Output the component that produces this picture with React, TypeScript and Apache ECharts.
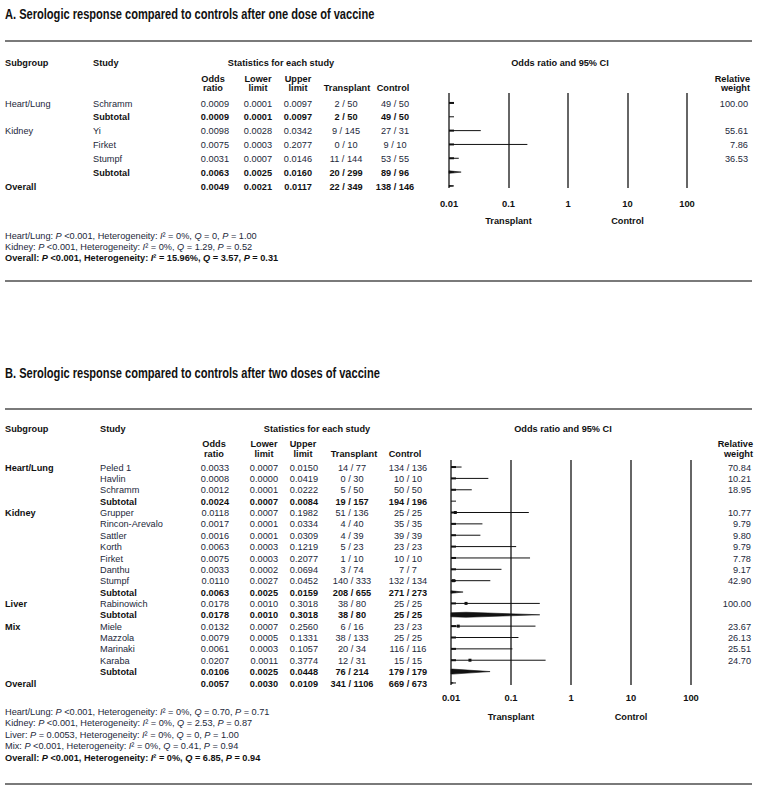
import React, { useEffect, useRef } from "react";
import * as echarts from "echarts";

// ---------------- DATA ----------------
const TICK_LABELS = ["0.01", "0.1", "1", "10", "100"];

const TITLE_A = "A. Serologic response compared to controls after one dose of vaccine";
const A_SUBGROUP = ["Heart/Lung", "", "Kidney", "", "", "", "Overall"];
const A_STUDY = ["Schramm", "Subtotal", "Yi", "Firket", "Stumpf", "Subtotal", ""];
const A_KIND = ["study", "subtotal", "study", "study", "study", "subtotal", "overall"];
const A_OR = [0.0009, 0.0009, 0.0098, 0.0075, 0.0031, 0.0063, 0.0049];
const A_LOWER = [0.0001, 0.0001, 0.0028, 0.0003, 0.0007, 0.0025, 0.0021];
const A_UPPER = [0.0097, 0.0097, 0.0342, 0.2077, 0.0146, 0.016, 0.0117];
const A_TX_EVENTS = [2, 2, 9, 0, 11, 20, 22];
const A_TX_TOTAL = [50, 50, 145, 10, 144, 299, 349];
const A_CTL_EVENTS = [49, 49, 27, 9, 53, 89, 138];
const A_CTL_TOTAL = [50, 50, 31, 10, 55, 96, 146];
const A_WEIGHT = [100.0, null, 55.61, 7.86, 36.53, null, null];
const A_FOOT_LABEL = ["Heart/Lung", "Kidney", "Overall"];
const A_FOOT_P = ["<0.001", "<0.001", "<0.001"];
const A_FOOT_I2 = ["0%", "0%", "15.96%"];
const A_FOOT_Q = ["0", "1.29", "3.57"];
const A_FOOT_PHET = ["1.00", "0.52", "0.31"];

const TITLE_B = "B. Serologic response compared to controls after two doses of vaccine";
const B_SUBGROUP = ["Heart/Lung", "", "", "", "Kidney", "", "", "", "", "", "", "", "Liver", "", "Mix", "", "", "", "", "Overall"];
const B_STUDY = ["Peled 1", "Havlin", "Schramm", "Subtotal", "Grupper", "Rincon-Arevalo", "Sattler", "Korth", "Firket", "Danthu", "Stumpf", "Subtotal", "Rabinowich", "Subtotal", "Miele", "Mazzola", "Marinaki", "Karaba", "Subtotal", ""];
const B_KIND = ["study", "study", "study", "subtotal", "study", "study", "study", "study", "study", "study", "study", "subtotal", "study", "subtotal", "study", "study", "study", "study", "subtotal", "overall"];
const B_OR = [0.0033, 0.0008, 0.0012, 0.0024, 0.0118, 0.0017, 0.0016, 0.0063, 0.0075, 0.0033, 0.011, 0.0063, 0.0178, 0.0178, 0.0132, 0.0079, 0.0061, 0.0207, 0.0106, 0.0057];
const B_LOWER = [0.0007, 0.0, 0.0001, 0.0007, 0.0007, 0.0001, 0.0001, 0.0003, 0.0003, 0.0002, 0.0027, 0.0025, 0.001, 0.001, 0.0007, 0.0005, 0.0003, 0.0011, 0.0025, 0.003];
const B_UPPER = [0.015, 0.0419, 0.0222, 0.0084, 0.1982, 0.0334, 0.0309, 0.1219, 0.2077, 0.0694, 0.0452, 0.0159, 0.3018, 0.3018, 0.256, 0.1331, 0.1057, 0.3774, 0.0448, 0.0109];
const B_TX_EVENTS = [14, 0, 5, 19, 51, 4, 4, 5, 1, 3, 140, 208, 38, 38, 6, 38, 20, 12, 76, 341];
const B_TX_TOTAL = [77, 30, 50, 157, 136, 40, 39, 23, 10, 74, 333, 655, 80, 80, 16, 133, 34, 31, 214, 1106];
const B_CTL_EVENTS = [134, 10, 50, 194, 25, 35, 39, 23, 10, 7, 132, 271, 25, 25, 23, 25, 116, 15, 179, 669];
const B_CTL_TOTAL = [136, 10, 50, 196, 25, 35, 39, 23, 10, 7, 134, 273, 25, 25, 23, 25, 116, 15, 179, 673];
const B_WEIGHT = [70.84, 10.21, 18.95, null, 10.77, 9.79, 9.8, 9.79, 7.78, 9.17, 42.9, null, 100.0, null, 23.67, 26.13, 25.51, 24.7, null, null];
const B_FOOT_LABEL = ["Heart/Lung", "Kidney", "Liver", "Mix", "Overall"];
const B_FOOT_P = ["<0.001", "<0.001", "= 0.0053", "<0.001", "<0.001"];
const B_FOOT_I2 = ["0%", "0%", "0%", "0%", "0%"];
const B_FOOT_Q = ["0.70", "2.53", "0", "0.41", "6.85"];
const B_FOOT_PHET = ["0.71", "0.87", "1.00", "0.94", "0.94"];

// ---------------- STYLE / LAYOUT ----------------
const FONT = '"Liberation Sans", Arial, sans-serif';
const C_REG = "#23283a";
const C_BOLD = "#111111";
const FS = 9.9;
const TEXT_SCALE_X = 0.93;
const AXIS_FS = 9.4;
const TITLE_FS = 14.5;
const TITLE_SCALE_X = 0.765;

const LAYOUT_A = {
  titleY: 14, ruleTopY: 41, headerY: 62, sub1Y: 78, sub2Y: 87,
  gridLeft: 449, gridTop: 93, gridWidth: 238, gridHeight: 95, yMin: -0.72, yMax: 6.15,
  labelMargin: 11, legendY: 220, footY0: 235, footStep: 11, ruleBottomY: 281,
  colSubgroup: 5, colStudy: 93, colOr: 229, colLo: 272, colHi: 312, colTx: 346, colCtl: 395, colWt: 748,
  hStats: 281, hOr: 213, hLo: 258, hHi: 298, hTx: 347, hCtl: 393, hPlot: 560, hWt: 750,
  boldSubgroup: false,
};
const LAYOUT_B = {
  titleY: 373, ruleTopY: 409, headerY: 428, sub1Y: 443, sub2Y: 453,
  gridLeft: 451, gridTop: 460, gridWidth: 240, gridHeight: 225, yMin: -0.62, yMax: 19.18,
  labelMargin: 7.5, legendY: 716, footY0: 711, footStep: 11.5, ruleBottomY: 784,
  colSubgroup: 5, colStudy: 100, colOr: 229, colLo: 278, colHi: 318, colTx: 352, colCtl: 408, colWt: 751,
  hStats: 317, hOr: 214, hLo: 264, hHi: 303, hTx: 354, hCtl: 405, hPlot: 563, hWt: 753,
  boldSubgroup: true,
};

const PANELS = [
  {
    title: TITLE_A, L: LAYOUT_A,
    subgroup: A_SUBGROUP, study: A_STUDY, kind: A_KIND, or: A_OR, lo: A_LOWER, hi: A_UPPER,
    txE: A_TX_EVENTS, txN: A_TX_TOTAL, ctE: A_CTL_EVENTS, ctN: A_CTL_TOTAL, wt: A_WEIGHT,
    fLabel: A_FOOT_LABEL, fP: A_FOOT_P, fI2: A_FOOT_I2, fQ: A_FOOT_Q, fPhet: A_FOOT_PHET,
  },
  {
    title: TITLE_B, L: LAYOUT_B,
    subgroup: B_SUBGROUP, study: B_STUDY, kind: B_KIND, or: B_OR, lo: B_LOWER, hi: B_UPPER,
    txE: B_TX_EVENTS, txN: B_TX_TOTAL, ctE: B_CTL_EVENTS, ctN: B_CTL_TOTAL, wt: B_WEIGHT,
    fLabel: B_FOOT_LABEL, fP: B_FOOT_P, fI2: B_FOOT_I2, fQ: B_FOOT_Q, fPhet: B_FOOT_PHET,
  },
];

function txt(x: number, y: number, text: string, align: string, bold: boolean, extra: any = {}) {
  return {
    type: "text",
    x, y,
    scaleX: TEXT_SCALE_X,
    silent: true,
    style: {
      text,
      fontFamily: FONT,
      fontSize: FS,
      fontWeight: bold ? "bold" : "normal",
      fill: bold ? C_BOLD : C_REG,
      align, textAlign: align,
      verticalAlign: "middle", textVerticalAlign: "middle",
      ...extra,
    },
  };
}

function clipLeft(pts: number[][], x0: number) {
  const out: number[][] = [];
  for (let k = 0; k < pts.length; k++) {
    const a = pts[k];
    const b = pts[(k + 1) % pts.length];
    const ain = a[0] >= x0;
    const bin = b[0] >= x0;
    if (ain) out.push(a);
    if (ain !== bin) {
      const t = (x0 - a[0]) / (b[0] - a[0]);
      out.push([x0, a[1] + t * (b[1] - a[1])]);
    }
  }
  return out;
}

function markRender(kinds: string[]) {
  return (params: any, api: any) => {
    const i = params.dataIndex;
    const row = api.value(0);
    const or = api.value(1);
    const lo = api.value(2);
    const hi = api.value(3);
    const px = (v: number) => api.coord([Math.max(v, 1e-6), row])[0];
    const y = api.coord([1, row])[1];
    const x0 = px(0.01);
    const xMax = px(100);
    const kind = kinds[i];
    const children: any[] = [];
    if (kind === "study") {
      if (hi > 0.01) {
        children.push({
          type: "line",
          shape: { x1: Math.max(px(lo), x0), y1: y, x2: Math.min(px(hi), xMax), y2: y },
          style: { stroke: "#111", lineWidth: 1 },
        });
      }
      if (lo < 0.01) {
        children.push({ type: "rect", shape: { x: x0, y: y - 1, width: 5, height: 2 }, style: { fill: "#111" } });
      }
      if (or >= 0.01) {
        children.push({ type: "rect", shape: { x: px(or) - 1.5, y: y - 1.5, width: 3, height: 3 }, style: { fill: "#111" } });
      }
    } else {
      if (lo < 0.01) {
        children.push({ type: "rect", shape: { x: x0, y: y - 0.5, width: 5, height: 1 }, style: { fill: "#111" } });
      }
      if (hi > 0.01) {
        const h = 2.5;
        const pts = [
          [px(lo), y],
          [px(or), y - h],
          [px(hi), y],
          [px(or), y + h],
        ];
        const clipped = clipLeft(pts, x0);
        if (clipped.length >= 3) {
          children.push({ type: "polygon", shape: { points: clipped }, style: { fill: "#111", stroke: "#111", lineWidth: 0.6 } });
        }
      }
    }
    return { type: "group", children };
  };
}

function tableRender(P: any) {
  const L = P.L;
  return (params: any, api: any) => {
    const i = params.dataIndex;
    const row = api.value(1);
    const y = api.coord([1, row])[1];
    const kind = P.kind[i];
    const b = kind !== "study";
    const children: any[] = [];
    if (P.subgroup[i]) {
      const sb = L.boldSubgroup || kind === "overall";
      children.push(txt(L.colSubgroup, y, P.subgroup[i], "left", sb));
    }
    if (P.study[i]) children.push(txt(L.colStudy, y, P.study[i], "left", b));
    children.push(txt(L.colOr, y, P.or[i].toFixed(4), "right", b));
    children.push(txt(L.colLo, y, P.lo[i].toFixed(4), "right", b));
    children.push(txt(L.colHi, y, P.hi[i].toFixed(4), "right", b));
    children.push(txt(L.colTx, y, `${P.txE[i]} / ${P.txN[i]}`, "center", b));
    children.push(txt(L.colCtl, y, `${P.ctE[i]} / ${P.ctN[i]}`, "center", b));
    if (P.wt[i] !== null && P.wt[i] !== undefined) {
      children.push(txt(L.colWt, y, P.wt[i].toFixed(2), "right", false));
    }
    return { type: "group", children };
  };
}

function footText(P: any, k: number) {
  const bold = P.fLabel[k] === "Overall";
  const n = bold ? "b" : "n";
  const it = bold ? "bi" : "i";
  return (
    `{${n}|${P.fLabel[k]}: }{${it}|P}{${n}| ${P.fP[k]}, Heterogeneity: }{${it}|I}{${n}|² = ${P.fI2[k]}, }` +
    `{${it}|Q}{${n}| = ${P.fQ[k]}, }{${it}|P}{${n}| = ${P.fPhet[k]}}`
  );
}

const RICH = {
  n: { fontFamily: FONT, fontSize: FS, fontWeight: "normal", fontStyle: "normal", fill: C_REG },
  i: { fontFamily: FONT, fontSize: FS, fontWeight: "normal", fontStyle: "italic", fill: C_REG },
  b: { fontFamily: FONT, fontSize: FS, fontWeight: "bold", fontStyle: "normal", fill: C_BOLD },
  bi: { fontFamily: FONT, fontSize: FS, fontWeight: "bold", fontStyle: "italic", fill: C_BOLD },
};

function buildOption() {
  const grids: any[] = [];
  const xAxes: any[] = [];
  const yAxes: any[] = [];
  const series: any[] = [];
  const graphics: any[] = [];

  PANELS.forEach((P, pi) => {
    const L = P.L;
    grids.push({ left: L.gridLeft, top: L.gridTop, width: L.gridWidth, height: L.gridHeight, containLabel: false });
    xAxes.push({
      type: "log", logBase: 10, gridIndex: pi, min: 0.01, max: 100, splitNumber: 4,
      axisLine: { show: false }, axisTick: { show: false }, minorTick: { show: false },
      splitLine: { show: true, lineStyle: { color: "#333", width: 1.5 } },
      axisLabel: {
        show: true, margin: L.labelMargin, fontFamily: FONT, fontSize: AXIS_FS, fontWeight: "bold", color: C_BOLD,
        formatter: (v: number) => TICK_LABELS[Math.round(Math.log10(v)) + 2] ?? "",
      },
    });
    yAxes.push({ type: "value", gridIndex: pi, min: L.yMin, max: L.yMax, inverse: true, show: false });

    series.push({
      type: "custom", xAxisIndex: pi, yAxisIndex: pi, silent: true, clip: false,
      encode: { x: 1, y: 0 },
      data: P.or.map((v: number, i: number) => [i, v, P.lo[i], P.hi[i]]),
      renderItem: markRender(P.kind),
      z: 5,
    });
    series.push({
      type: "custom", xAxisIndex: pi, yAxisIndex: pi, silent: true, clip: false,
      encode: { x: 0, y: 1 },
      data: P.study.map((_: string, i: number) => [1, i]),
      renderItem: tableRender(P),
      z: 6,
    });

    // Title and rules
    graphics.push({
      type: "text", x: 5, y: L.titleY, scaleX: TITLE_SCALE_X, silent: true,
      style: {
        text: P.title, fontFamily: FONT, fontSize: TITLE_FS, fontWeight: "bold", fill: C_BOLD,
        align: "left", textAlign: "left", verticalAlign: "middle", textVerticalAlign: "middle",
      },
    });
    graphics.push({ type: "line", silent: true, shape: { x1: 5, y1: L.ruleTopY, x2: 752, y2: L.ruleTopY }, style: { stroke: "#7a7a7a", lineWidth: 2 } });
    graphics.push({ type: "line", silent: true, shape: { x1: 5, y1: L.ruleBottomY, x2: 752, y2: L.ruleBottomY }, style: { stroke: "#7a7a7a", lineWidth: 2 } });

    // Headers
    graphics.push(txt(L.colSubgroup, L.headerY, "Subgroup", "left", true));
    graphics.push(txt(L.colStudy, L.headerY, "Study", "left", true));
    graphics.push(txt(L.hStats, L.headerY, "Statistics for each study", "center", true));
    graphics.push(txt(L.hPlot, L.headerY, "Odds ratio and 95% CI", "center", true));
    graphics.push(txt(L.hOr, L.sub1Y, "Odds", "center", true));
    graphics.push(txt(L.hOr, L.sub2Y, "ratio", "center", true));
    graphics.push(txt(L.hLo, L.sub1Y, "Lower", "center", true));
    graphics.push(txt(L.hLo, L.sub2Y, "limit", "center", true));
    graphics.push(txt(L.hHi, L.sub1Y, "Upper", "center", true));
    graphics.push(txt(L.hHi, L.sub2Y, "limit", "center", true));
    graphics.push(txt(L.hTx, L.sub2Y, "Transplant", "center", true));
    graphics.push(txt(L.hCtl, L.sub2Y, "Control", "center", true));
    graphics.push(txt(L.hWt, L.sub1Y, "Relative", "right", true));
    graphics.push(txt(L.hWt, L.sub2Y, "weight", "right", true));

    // Favours labels under the 0.1 and 10 lines
    graphics.push(txt(L.gridLeft + L.gridWidth * 0.25, L.legendY, "Transplant", "center", true));
    graphics.push(txt(L.gridLeft + L.gridWidth * 0.75, L.legendY, "Control", "center", true));

    // Footnotes
    P.fLabel.forEach((_: string, k: number) => {
      graphics.push({
        type: "text", x: 5, y: L.footY0 + k * L.footStep, scaleX: TEXT_SCALE_X, silent: true,
        style: {
          text: footText(P, k), rich: RICH, fontFamily: FONT, fontSize: FS, fill: C_REG,
          align: "left", textAlign: "left", verticalAlign: "middle", textVerticalAlign: "middle",
        },
      });
    });
  });

  return {
    animation: false,
    backgroundColor: "#ffffff",
    grid: grids,
    xAxis: xAxes,
    yAxis: yAxes,
    series,
    graphic: { elements: graphics },
  };
}

export default function App() {
  const ref = useRef<HTMLDivElement>(null);
  useEffect(() => {
    document.body.style.margin = "0";
    const chart = echarts.init(ref.current as HTMLDivElement, null, { renderer: "svg" });
    chart.setOption(buildOption() as any);
    return () => chart.dispose();
  }, []);
  return <div ref={ref} style={{ width: 758, height: 790 }} />;
}
